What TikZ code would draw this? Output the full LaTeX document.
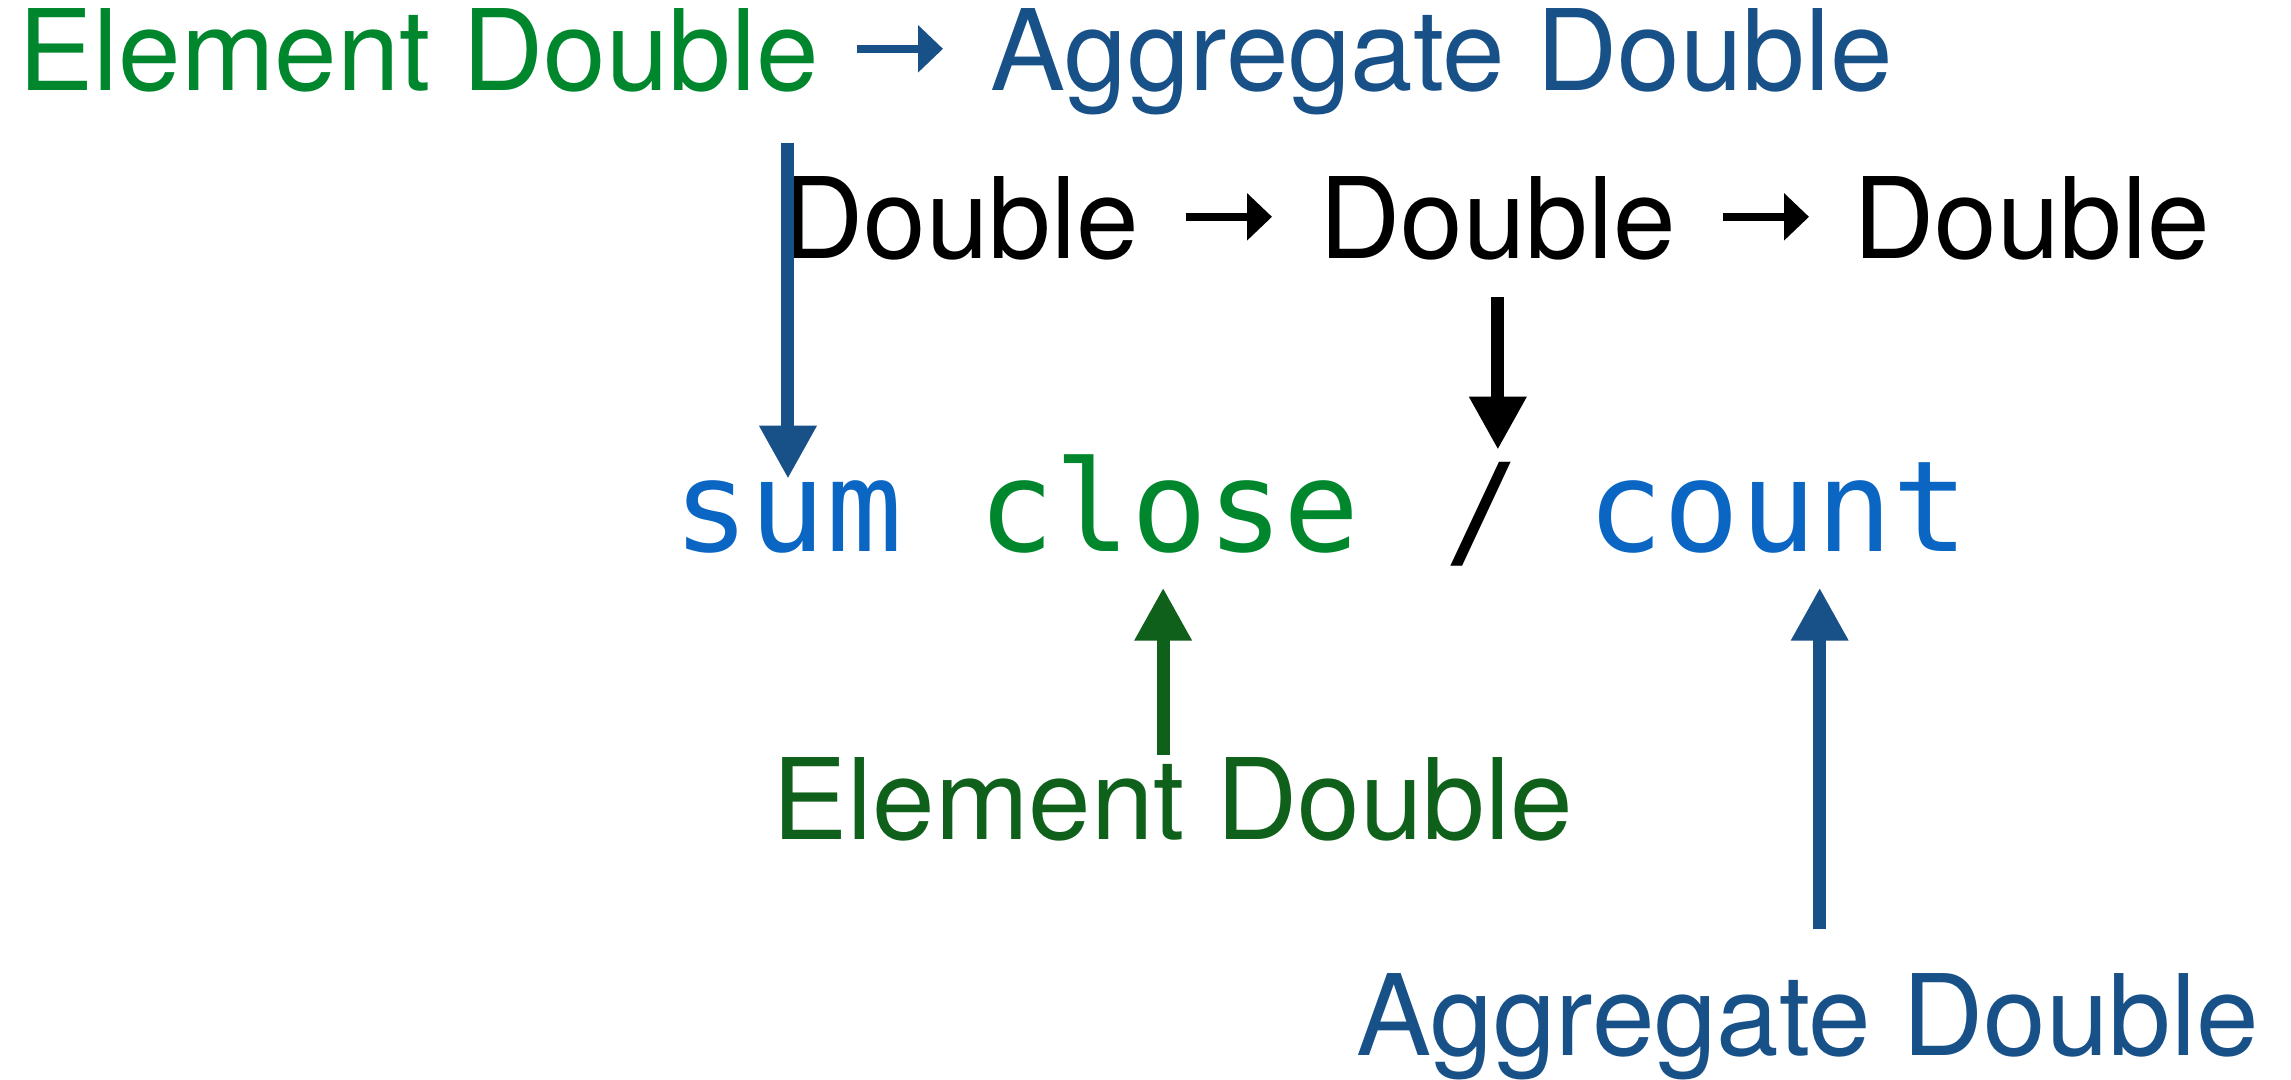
\documentclass[tikz,border=0pt]{standalone}
\usepackage{fontspec}
\setmainfont{TeX Gyre Heros}
\newfontfamily\codefont{DejaVu Sans Mono}
\usetikzlibrary{arrows.meta}
\definecolor{elemgreen}{HTML}{00872D}
\definecolor{aggblue}{HTML}{185088}
\definecolor{codeblue}{HTML}{0A66C2}
\definecolor{darkgreen}{HTML}{0F601B}

\begin{document}
\begin{tikzpicture}[
 typelabel/.style={anchor=base west,inner sep=0pt,font=\fontsize{32}{38}\selectfont,text height=24pt,text depth=0pt},
 codeword/.style={anchor=base west,inner sep=0pt,font=\codefont\fontsize{36}{43}\selectfont,text height=27.4pt,text depth=0pt},
 typearrow/.style={-{Triangle[length=2.5mm,width=4.6mm]},line width=2.4pt},
 bigarrow/.style={-{Triangle[length=5.3mm,width=5.4mm]},line width=3.7pt}]

\useasboundingbox (0,0) rectangle (22.91,-10.80);

% Type of sum
\node[typelabel,text=elemgreen] (eltop) at (0.18,-0.91) {Element Double};
\node[typelabel,text=aggblue] (aggtop) at (9.90,-0.91) {Aggregate Double};
\draw[typearrow,aggblue,shorten <=3.7mm,shorten >=4.7mm] (eltop.east) -- (aggtop.west);

% Type of the division
\node[typelabel] (dblone) at (7.82,-2.59) {Double};
\node[typelabel] (dbltwo) at (13.19,-2.59) {Double};
\node[typelabel] (dblthree) at (18.53,-2.59) {Double};
\draw[typearrow,shorten <=4.6mm,shorten >=4.7mm] (dblone.east) -- (dbltwo.west);
\draw[typearrow,shorten <=4.6mm,shorten >=4.4mm] (dbltwo.east) -- (dblthree.west);

% The expression itself
\node[codeword,text=codeblue] (sum) at (6.73,-5.52) {sum};
\node[codeword,text=elemgreen] (close) at (9.78,-5.52) {close};
\node[codeword] (slash) at (14.44,-5.55) {/};
\node[codeword,text=codeblue] (count) at (15.87,-5.52) {count};

% Types below
\node[typelabel,text=darkgreen] (elbot) at (7.72,-8.40) {Element Double};
\node[typelabel,text=aggblue] (aggbot) at (13.56,-10.55) {Aggregate Double};

% Arrows to the expression
\draw[bigarrow,aggblue,shorten <=5.1mm,shorten >=7.4mm] (sum.north |- eltop.south) -- (sum.south);
\draw[bigarrow,black,shorten <=3.7mm,shorten >=10.6mm] (dbltwo.south) -- (dbltwo.south |- slash.south);
\draw[bigarrow,darkgreen,shorten >=3.5mm,transform canvas={xshift=-0.6mm}] (close.south |- elbot.north) -- (close.south);
\draw[bigarrow,aggblue,shorten <=4.1mm,shorten >=3.5mm,transform canvas={xshift=1.2mm}] (aggbot.north) -- (aggbot.north |- count.south);
\end{tikzpicture}
\end{document}
